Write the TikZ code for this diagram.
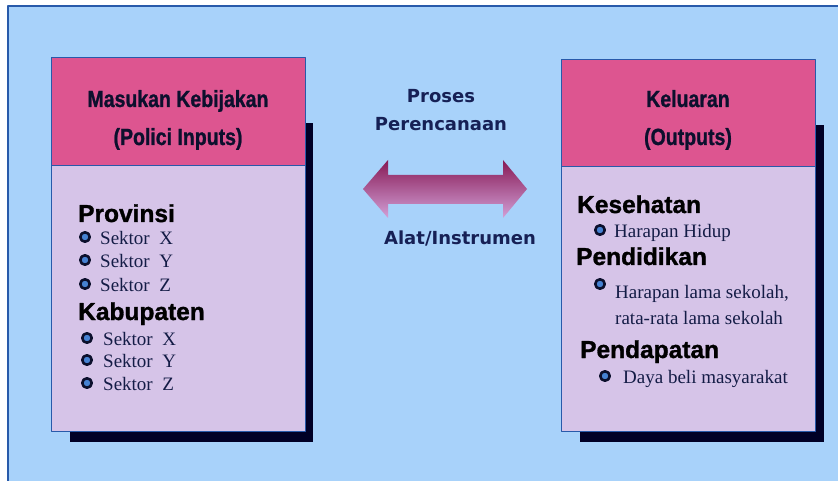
\documentclass[tikz,border=0pt]{standalone}
\usepackage{fontspec}
\setmainfont{Liberation Serif}
\newfontfamily\arialbold{Liberation Sans}[UprightFont={* Bold},FakeBold=1.2]
\newfontfamily\tahomafont{DejaVu Sans}[UprightFont={* Bold}]
\usetikzlibrary{positioning}
\definecolor{panelblue}{RGB}{168,210,250}
\definecolor{panelline}{RGB}{40,90,170}
\definecolor{headpink}{RGB}{221,85,144}
\definecolor{bodylilac}{RGB}{214,196,232}
\definecolor{inknavy}{RGB}{12,16,45}
\definecolor{midnavy}{RGB}{22,32,85}
\definecolor{itemnavy}{RGB}{20,28,70}
\definecolor{arrowdark}{RGB}{135,25,85}
\definecolor{arrowlight}{RGB}{210,160,215}
\definecolor{dotblue}{RGB}{70,130,210}
\begin{document}
\begin{tikzpicture}[x=1pt,y=-1pt,line join=round,
    headbox/.style={draw=panelline,fill=headpink,line width=0.6pt,outer sep=0pt,inner sep=0pt,anchor=north west},
    bodybox/.style={draw=panelline,fill=bodylilac,line width=0.6pt,outer sep=0pt,inner sep=0pt,anchor=north},
    shadowbox/.style={fill=black!85!blue},
    headtext/.style={font=\arialbold\fontsize{19.5}{24}\selectfont,text=inknavy,anchor=base,inner sep=0pt},
    midtext/.style={font=\tahomafont\fontsize{18}{22}\selectfont,text=midnavy,anchor=base,inner sep=0pt},
    grouptext/.style={font=\arialbold\fontsize{24.5}{28}\selectfont,text=black,anchor=base west,inner sep=0pt},
    itemtext/.style={font=\fontsize{19}{22}\selectfont,text=itemnavy,anchor=base west,inner sep=0pt},
    dotmark/.style={circle,draw=inknavy,fill=dotblue,line width=2.6pt,minimum size=9.5pt,inner sep=0pt}]
  \useasboundingbox (0,0) rectangle (838,481);
  % panel
  \fill[white] (0,0) rectangle (838,481);
  \fill[panelblue] (8,6) rectangle (838,481);
  \draw[panelline,line width=1.2pt] (8,481) -- (8,6) -- (838,6);
  % shadows
  \fill[shadowbox] (70,123) rectangle (313,442);
  \fill[shadowbox] (580,125) rectangle (824,442);
  % input box
  \node[headbox,minimum width=254pt,minimum height=108pt] (inHead) at (51,57) {};
  \node[bodybox,minimum width=254pt,minimum height=266pt] (inBody) at (inHead.south) {};
  \node[headtext] (inTitle) at (178,107) {\scalebox{1}[1.2]{Masukan Kebijakan}};
  \node[headtext] (inSub) at (178,145) {\scalebox{1}[1.2]{(Polici Inputs)}};
  \node[grouptext] (prov) at (78,222) {Provinsi};
  \foreach \s/\yy [count=\i] in {X/244,Y/267,Z/291}{
    \node[dotmark] (pd\i) at (85,\yy-7) {};
    \node[itemtext] (ps\i) at (100,\yy) {Sektor~~\s};
  }
  \node[grouptext] (kab) at (78,320) {Kabupaten};
  \foreach \s/\yy [count=\i] in {X/345,Y/367,Z/390}{
    \node[dotmark] (kd\i) at (87,\yy-7) {};
    \node[itemtext] (ks\i) at (103,\yy) {Sektor~~\s};
  }
  % output box
  \node[headbox,minimum width=254pt,minimum height=107pt] (outHead) at (561,59) {};
  \node[bodybox,minimum width=254pt,minimum height=265pt] (outBody) at (outHead.south) {};
  \node[headtext] (outTitle) at (688,107) {\scalebox{1}[1.2]{Keluaran}};
  \node[headtext] (outSub) at (688,145) {\scalebox{1}[1.2]{(Outputs)}};
  \node[grouptext] (sehat) at (577,213) {Kesehatan};
  \node[dotmark] (sd1) at (600,230) {};
  \node[itemtext] (ss1) at (614,238) {Harapan Hidup};
  \node[grouptext] (didik) at (576,265) {Pendidikan};
  \node[dotmark] (dd1) at (600,284) {};
  \node[itemtext] (ds1) at (615,298) {Harapan lama sekolah,};
  \node[itemtext] (ds2) at (615,324) {rata-rata lama sekolah};
  \node[grouptext] (dapat) at (580,358) {Pendapatan};
  \node[dotmark] (ad1) at (605,376) {};
  \node[itemtext] (as1) at (623,383) {Daya beli masyarakat};
  % process arrow
  \node[midtext] (proses) at (441,103) {Proses};
  \node[midtext] (rencana) at (441,131) {Perencanaan};
  \shade[top color=arrowdark,bottom color=arrowlight]
    (363,189) -- (388,160) -- (388,175) -- (503,175) -- (503,160) -- (527,189)
    -- (503,218) -- (503,204) -- (388,204) -- (388,218) -- cycle;
  \node[midtext] (alat) at (460,244) {Alat/Instrumen};
\end{tikzpicture}
\end{document}
